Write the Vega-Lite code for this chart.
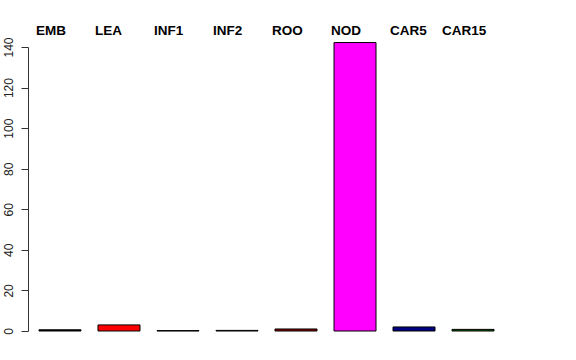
{
  "$schema": "https://vega.github.io/schema/vega-lite/v6.json",
  "autosize": "none",
  "padding": {"left": 28, "top": 47, "right": 71, "bottom": 29},
  "width": 477,
  "height": 284,
  "background": "white",
  "config": {"view": {"stroke": null}, "font": "Liberation Sans"},
  "data": {"values": [
    {"tissue": "EMB", "value": 0.6, "col": "#000000"},
    {"tissue": "LEA", "value": 3.0, "col": "#ff0000"},
    {"tissue": "INF1", "value": 0.2, "col": "#5f7a5f"},
    {"tissue": "INF2", "value": 0.3, "col": "#4b4b80"},
    {"tissue": "ROO", "value": 1.0, "col": "#8b0000"},
    {"tissue": "NOD", "value": 142.2, "col": "#ff00ff"},
    {"tissue": "CAR5", "value": 2.0, "col": "#000080"},
    {"tissue": "CAR15", "value": 0.8, "col": "#006400"}
  ]},
  "mark": {"type": "bar", "stroke": "black", "strokeWidth": 1, "clip": false},
  "encoding": {
    "x": {
      "field": "tissue", "type": "nominal", "sort": null,
      "scale": {"paddingInner": 0.288, "paddingOuter": 0.186},
      "axis": {"orient": "top", "title": null, "domain": false, "ticks": false,
        "labelAngle": 0, "labelAlign": "left",
        "labelOffset": {"condition": {"test": "datum.value == 'CAR15'", "value": -31}, "value": -24},
        "labelBaseline": "alphabetic", "labelPadding": 13,
        "labelFontWeight": "bold", "labelFontSize": 13.5, "labelColor": "black"}
    },
    "y": {
      "field": "value", "type": "quantitative",
      "scale": {"domain": [0, 140], "nice": false, "zero": true},
      "axis": {"title": null, "grid": false, "values": [0, 20, 40, 60, 80, 100, 120, 140],
        "tickSize": 7, "tickColor": "#333", "domainColor": "#333",
        "labelAngle": -90, "labelAlign": "center", "labelBaseline": "bottom",
        "labelPadding": 6, "labelFontSize": 12, "labelColor": "#222", "labelFlush": false}
    },
    "fill": {"field": "col", "type": "nominal", "scale": null}
  }
}
